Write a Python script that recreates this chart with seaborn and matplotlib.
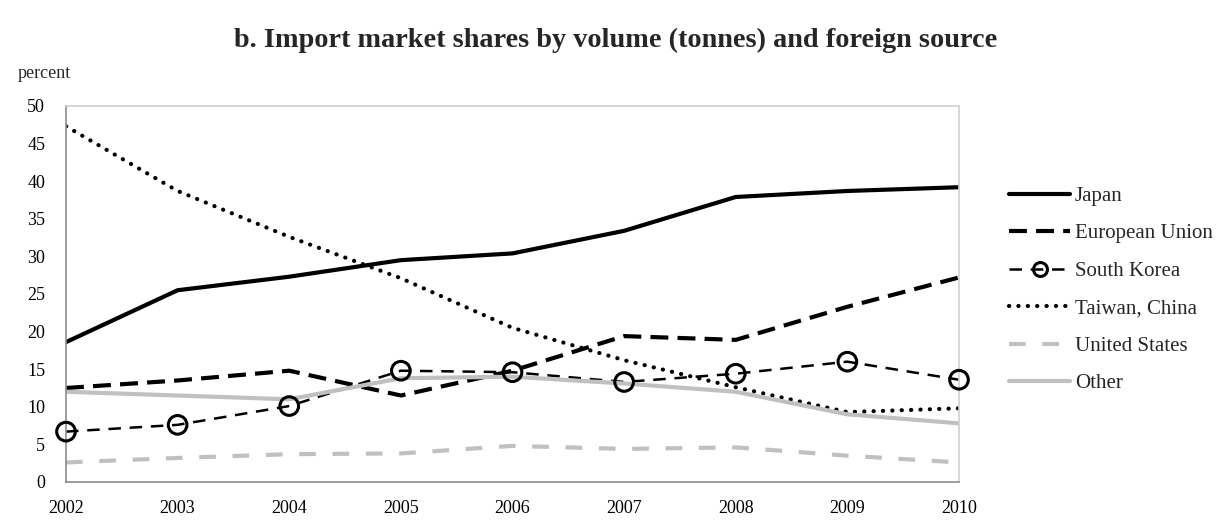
import numpy as np
import pandas as pd
import matplotlib
matplotlib.use('Agg')
import matplotlib.pyplot as plt
import seaborn as sns
from matplotlib.lines import Line2D

# data (percent of import volume)
years = [2002, 2003, 2004, 2005, 2006, 2007, 2008, 2009, 2010]
japan = [18.6, 25.5, 27.3, 29.5, 30.4, 33.4, 37.9, 38.7, 39.2]
eu = [12.5, 13.5, 14.8, 11.5, 14.8, 19.4, 18.9, 23.3, 27.2]
south_korea = [6.7, 7.6, 10.1, 14.8, 14.6, 13.3, 14.4, 16.0, 13.6]
taiwan = [47.3, 38.7, 32.6, 27.1, 20.5, 16.2, 12.6, 9.3, 9.8]
united_states = [2.6, 3.2, 3.7, 3.8, 4.8, 4.4, 4.6, 3.5, 2.6]
other = [12.0, 11.5, 11.0, 13.8, 14.0, 13.1, 12.0, 9.0, 7.8]

series_names = ['Japan', 'European Union', 'South Korea', 'Taiwan, China',
                'United States', 'Other']
series_vals = [japan, eu, south_korea, taiwan, united_states, other]

df = pd.DataFrame({'year': years})
for name, vals in zip(series_names, series_vals):
    df[name] = vals
long_df = df.melt(id_vars='year', var_name='source', value_name='share')

sns.set_style('white')
plt.rcParams['font.family'] = ['Liberation Serif', 'DejaVu Serif']

# line styles, mimicking the excel chart
styles = {
    'Japan': dict(color='black', lw=3.0, linestyle='-'),
    'European Union': dict(color='black', lw=3.0, linestyle=(0, (4.3, 2.2))),
    'South Korea': dict(color='black', lw=1.8, linestyle=(0, (5, 3.5))),
    'Taiwan, China': dict(color='black', lw=3.0, linestyle=(0, (0.05, 2.2)),
                          dash_capstyle='round'),
    'United States': dict(color='#c0c0c0', lw=3.0, linestyle=(0, (4, 4))),
    'Other': dict(color='#c0c0c0', lw=3.0, linestyle='-'),
}

fig = plt.figure(figsize=(12.25, 5.21), dpi=100)
ax = fig.add_axes([66 / 1225, 1 - 482 / 521, (959 - 66) / 1225, (482 - 106) / 521])

for name in series_names:
    sub = long_df[long_df['source'] == name]
    sns.lineplot(data=sub, x='year', y='share', ax=ax, **styles[name])

# open circle markers for South Korea
sk = long_df[long_df['source'] == 'South Korea']
sns.scatterplot(data=sk, x='year', y='share', ax=ax, marker='o', s=180,
                facecolors='none', edgecolor='black', linewidth=2.2, zorder=5,
                clip_on=False)

ax.set_xlim(2002, 2010)
ax.set_ylim(0, 50)
ax.set_xticks(years)
ax.set_yticks(range(0, 51, 5))
ax.tick_params(axis='both', length=0, labelsize=13, colors='black')
ax.tick_params(axis='x', pad=13)
ax.tick_params(axis='y', pad=15)
ax.set_xlabel('')
ax.set_ylabel('')

for side in ['left', 'bottom']:
    ax.spines[side].set_color('#8c8c8c')
    ax.spines[side].set_linewidth(1.2)
for side in ['top', 'right']:
    ax.spines[side].set_visible(True)
    ax.spines[side].set_color('#d0d0d0')
    ax.spines[side].set_linewidth(1.2)

fig.text(616 / 1225, 1 - 40 / 521, 'b. Import market shares by volume (tonnes) and foreign source',
         ha='center', va='center', fontsize=20.3, fontweight='bold')
fig.text(18 / 1225, 1 - 73 / 521, 'percent', ha='left', va='center', fontsize=13)

handles = []
for name in series_names:
    kw = dict(styles[name])
    if name == 'South Korea':
        kw.update(marker='o', markersize=10, fillstyle='none', markeredgewidth=2.2)
    handles.append(Line2D([], [], **kw))

fig.legend(handles, series_names, loc='upper left',
           bbox_to_anchor=(1001 / 1225, 1 - 178 / 521), frameon=False,
           fontsize=15, handlelength=2.9, handletextpad=0.25,
           labelspacing=0.86, borderaxespad=0)

plt.savefig('out.png', dpi=100)
